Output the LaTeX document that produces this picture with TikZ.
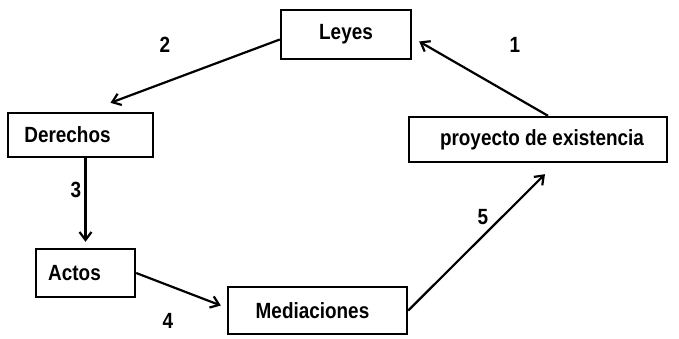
\documentclass[tikz,border=0pt]{standalone}
\usepackage{fontspec}
\setmainfont[FakeStretch=0.86]{Liberation Sans}
\usetikzlibrary{arrows.meta}
\begin{document}
\begin{tikzpicture}[x=1pt, y=-1pt, >={Straight Barb[length=8pt,width=12pt]},
                    box/.style={draw, line width=2.4pt, inner sep=0pt, font=\fontsize{22}{24}\selectfont\bfseries},
                    num/.style={font=\fontsize{22}{24}\selectfont\bfseries},
                    arr/.style={->, line width=2.2pt}]
                    \useasboundingbox (0,0) rectangle (679,339);
                    \node[box, minimum width=130pt, minimum height=49pt] (leyes) at (346,34.5) {Leyes};
                    \node[box, minimum width=145pt, minimum height=44pt] (derechos) at (80.5,135) {Derechos\hspace*{26pt}};
                    \node[box, minimum width=258pt, minimum height=45pt] (proyecto) at (538,139.5) {\hspace*{8pt}proyecto de existencia};
                    \node[box, minimum width=99pt, minimum height=48pt] (actos) at (85.5,273) {Actos\hspace*{22pt}};
                    \node[box, minimum width=179pt, minimum height=47pt] (mediaciones) at (317.5,310.5) {Mediaciones\hspace*{10pt}};
                    \draw[arr] ([xshift=10pt]proyecto.north) -- ([xshift=7pt,yshift=-7pt]leyes.east);
                    \draw[arr] ([yshift=-5pt]leyes.west) -- ([xshift=30pt,yshift=9pt]derechos.north);
                    \draw[arr] (actos.north |- derechos.south) -- ([yshift=6pt]actos.north);
                    \draw[arr] (actos.east) -- ([xshift=-6pt,yshift=5pt]mediaciones.west);
                    \draw[arr] (mediaciones.east) -- ([xshift=7pt,yshift=-11pt]proyecto.south);
                    \node[num] (n1) at (515,45) {1};
                    \node[num] (n2) at (165,45) {2};
                    \node[num] (n3) at (76,190) {3};
                    \node[num] (n4) at (168,321) {4};
                    \node[num] (n5) at (483,217) {5};
                \end{tikzpicture}
\end{document}
